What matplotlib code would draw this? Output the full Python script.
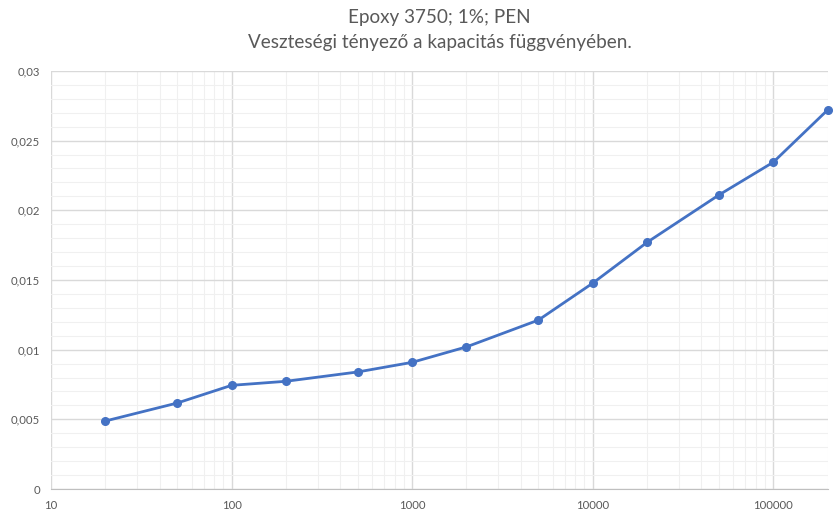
"""Epoxy 3750 loss factor vs frequency, log x axis."""

import matplotlib

matplotlib.use("Agg")
import matplotlib.pyplot as plt
from matplotlib.ticker import FixedLocator, FuncFormatter, LogLocator, MultipleLocator, NullFormatter

# data
freq = [20, 50, 100, 200, 500, 1000, 2000, 5000, 10000, 20000, 50000, 100000, 200000]
loss = [0.00488, 0.00617, 0.00744, 0.00773, 0.0084, 0.00909, 0.0102, 0.01212, 0.01477, 0.0177, 0.0211, 0.02345, 0.0272]
x_ticks = [10, 100, 1000, 10000, 100000]
title_lines = ["Epoxy 3750; 1%; PEN", "Veszteségi tényező a kapacitás függvényében."]

plt.rcParams["font.family"] = ["Lato", "DejaVu Sans"]

fig = plt.figure(figsize=(8.36, 5.14), dpi=100)
ax = fig.add_axes([0.061, 0.0486, 0.929, 0.8134])

ax.plot(freq, loss, color="#4472C4", lw=2.0, marker="o", ms=5.5, zorder=3, clip_on=False)

ax.set_xscale("log")
ax.set_xlim(10, 200000)
ax.set_ylim(0, 0.03)
ax.xaxis.set_major_locator(FixedLocator(x_ticks))
ax.xaxis.set_major_formatter(FuncFormatter(lambda v, _: f"{int(v)}"))
ax.xaxis.set_minor_locator(LogLocator(base=10, subs=range(2, 10)))
ax.xaxis.set_minor_formatter(NullFormatter())
ax.yaxis.set_major_locator(MultipleLocator(0.005))
ax.yaxis.set_minor_locator(MultipleLocator(0.001))
ax.yaxis.set_major_formatter(FuncFormatter(lambda v, _: f"{v:g}".replace(".", ",")))

ax.grid(which="major", color="#D9D9D9", lw=1.0)
ax.grid(which="minor", color="#F0F0F0", lw=0.8)
ax.set_axisbelow(True)
for side in ["left", "right", "top"]:
    ax.spines[side].set_visible(False)
ax.spines["bottom"].set_color("#BFBFBF")
ax.tick_params(which="both", length=0, colors="#595959", labelsize=8.2)
ax.tick_params(axis="x", pad=8)
ax.tick_params(axis="y", pad=8)

fig.text(0.526, 0.966, title_lines[0], ha="center", va="center", fontsize=13.6, color="#595959")
fig.text(0.526, 0.918, title_lines[1], ha="center", va="center", fontsize=13.6, color="#595959")

fig.savefig("out.png", dpi=100)
